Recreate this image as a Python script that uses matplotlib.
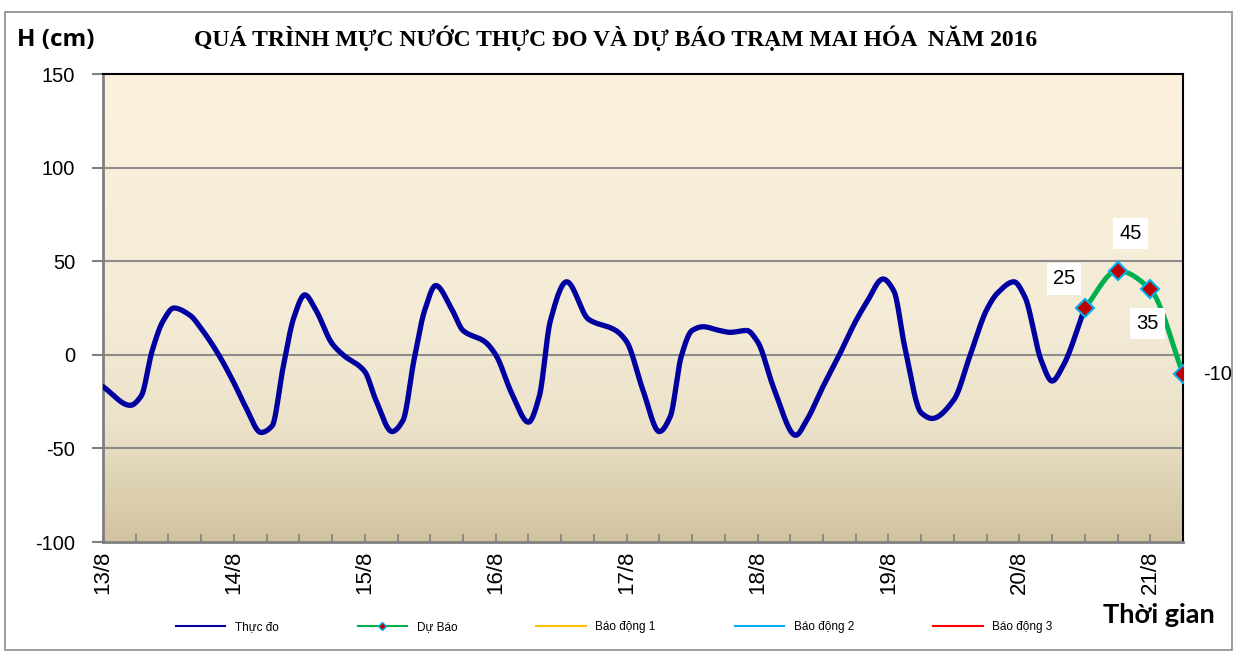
import numpy as np
import matplotlib
matplotlib.use("Agg")
import matplotlib.pyplot as plt
from matplotlib.lines import Line2D
from matplotlib.patches import Rectangle

# ---------------- data ----------------
# observed water level (hours since 13/8 00h, cm)
obs_hours = [0, 5, 7, 9, 11, 13, 16, 18, 21, 24, 26, 29, 31, 33, 35, 37, 39, 42, 44, 48,
             50, 53, 55, 57, 59, 61, 64, 66, 70, 72, 75, 78, 80, 82, 85, 89, 94, 96, 99,
             102, 104, 106, 108, 110, 113, 115, 118, 120, 123, 127, 129, 132, 135, 138,
             140, 143, 145, 147, 150, 152, 156, 159, 162, 164, 167, 169, 172, 174, 176, 180]
obs_values = [-17, -27, -22, 2, 18, 25, 21, 14, 1, -15, -27, -41.5, -38, -7, 20, 32, 24, 6, 0, -9,
              -24, -41, -35, -3, 24, 37, 24, 13, 7, 0, -21, -36, -22, 18, 39, 19, 13, 7, -19,
              -41, -33, -1, 13, 15, 13, 12, 13, 7, -18, -43, -35, -17, 0, 18,
              28, 40.5, 34, 4, -31, -34, -24, 0, 24, 33, 39, 31, -3, -14, -6, 25]
fc_hours = [180, 186, 192, 198]
fc_values = [25, 45, 35, -10]

tick_hours = [0, 24, 48, 72, 96, 120, 144, 168, 192]
tick_labels = ["13/8", "14/8", "15/8", "16/8", "17/8", "18/8", "19/8", "20/8", "21/8"]

title = "QUÁ TRÌNH MỰC NƯỚC THỰC ĐO VÀ DỰ BÁO TRẠM MAI HÓA  NĂM 2016"
legend_names = ["Thực đo", "Dự Báo", "Báo động 1", "Báo động 2", "Báo động 3"]


def pchip(x, y, n=30):
    x = np.asarray(x, float); y = np.asarray(y, float)
    h = np.diff(x); d = np.diff(y) / h
    m = np.zeros_like(y)
    for k in range(1, len(x) - 1):
        if d[k - 1] * d[k] <= 0:
            m[k] = 0
        else:
            w1 = 2 * h[k] + h[k - 1]; w2 = h[k] + 2 * h[k - 1]
            m[k] = (w1 + w2) / (w1 / d[k - 1] + w2 / d[k])
    m[0] = d[0]; m[-1] = d[-1]
    xs, ys = [], []
    for k in range(len(x) - 1):
        t = np.linspace(0, 1, n, endpoint=False)
        h00 = 2 * t**3 - 3 * t**2 + 1; h10 = t**3 - 2 * t**2 + t
        h01 = -2 * t**3 + 3 * t**2; h11 = t**3 - t**2
        xs.append(x[k] + t * h[k])
        ys.append(h00 * y[k] + h10 * h[k] * m[k] + h01 * y[k + 1] + h11 * h[k] * m[k + 1])
    xs.append([x[-1]]); ys.append([y[-1]])
    return np.concatenate(xs), np.concatenate(ys)


plt.rcParams['font.family'] = ['Liberation Sans', 'DejaVu Sans']
plt.rcParams['axes.unicode_minus'] = False

fig = plt.figure(figsize=(12.37, 6.53), dpi=100)
ax = fig.add_axes([103 / 1237, 1 - 542 / 653, 1080 / 1237, 468 / 653])

# gradient background
stops = np.array([[0.0, 253, 241, 221], [0.5, 244, 236, 215], [0.75, 236, 226, 202], [1.0, 209, 195, 159]])
tt = np.linspace(0, 1, 256)
cols = np.stack([np.interp(tt, stops[:, 0], stops[:, i]) for i in (1, 2, 3)], axis=1) / 255
ax.imshow(cols[:, None, :], extent=[0, 198, -100, 150], aspect='auto', zorder=0, origin='upper')

ax.set_xlim(0, 198)
ax.set_ylim(-100, 150)
for v in [-50, 0, 50, 100]:
    ax.axhline(v, color='#8c8c8c', lw=1.5, zorder=1)

xo, yo = pchip(obs_hours, obs_values)
ax.plot(xo, yo, color='#0000A0', lw=3.8, zorder=3, solid_capstyle='round')
xf, yf = pchip(fc_hours, fc_values)
ax.plot(xf, yf, color='#00B050', lw=3.6, zorder=3)
ax.plot(fc_hours, fc_values, ls='none', marker='D', ms=9, mfc='#C00000', mec='#00B0F0', mew=1.5, zorder=4)

offsets = [(-21, 29), (13, 37), (-3, -34), (20, -1)]
for i, (h, v) in enumerate(zip(fc_hours, fc_values)):
    dx, dy = offsets[i]
    ha = 'left' if i == 3 else 'center'
    ax.annotate(f"{v}", (h, v), xytext=(dx, dy), textcoords='offset pixels', ha=ha, va='center',
                fontsize=14.5, color='black', zorder=6, annotation_clip=False,
                bbox=dict(boxstyle='square,pad=0.3', fc='white', ec='none'))

# spines
for s in ['left', 'bottom']:
    ax.spines[s].set_color('#808080'); ax.spines[s].set_linewidth(2)
for s in ['top', 'right']:
    ax.spines[s].set_color('black'); ax.spines[s].set_linewidth(1.5)

ax.set_yticks([-100, -50, 0, 50, 100, 150])
ax.tick_params(axis='y', direction='out', length=8, width=1.5, color='#808080', labelsize=14.5, pad=12)
ax.set_xticks(np.arange(0, 199, 6), minor=True)
ax.set_xticks(tick_hours)
ax.set_xticklabels(tick_labels, rotation=90, fontsize=16)
ax.tick_params(axis='x', which='both', direction='in', length=6, width=1.2, color='#808080', pad=6)

fig.text(616 / 1237, 1 - 38 / 653, title, ha='center', va='center', fontsize=17,
         fontweight='bold', family='Liberation Serif')
fig.text(17 / 1237, 1 - 40 / 653, "H (cm)", ha='left', va='center', fontsize=17.5, fontweight='bold',
         family='Open Sans')
fig.text(1103 / 1237, 1 - 615 / 653, "Thời gian", ha='left', va='center', fontsize=19.5, fontweight='bold',
         family='Lato')

handles = [Line2D([], [], color='#0000A0', lw=1.5),
           Line2D([], [], color='#00B050', lw=1.5, marker='D', ms=4, mfc='#C00000', mec='#00B0F0'),
           Line2D([], [], color='#FFC000', lw=1.5),
           Line2D([], [], color='#00B0F0', lw=1.5),
           Line2D([], [], color='#FF0000', lw=1.5)]
fig.legend(handles, legend_names, loc='center', bbox_to_anchor=(614 / 1237, 1 - 627 / 653), ncol=5,
           frameon=False, fontsize=8.5, handlelength=4.2, columnspacing=6.7, handletextpad=0.8)

fig.add_artist(Rectangle((5 / 1237, 3 / 653), 1227 / 1237, 638 / 653, transform=fig.transFigure,
                         fill=False, ec='#8c8c8c', lw=1.2))

fig.savefig("out.png", dpi=100)
